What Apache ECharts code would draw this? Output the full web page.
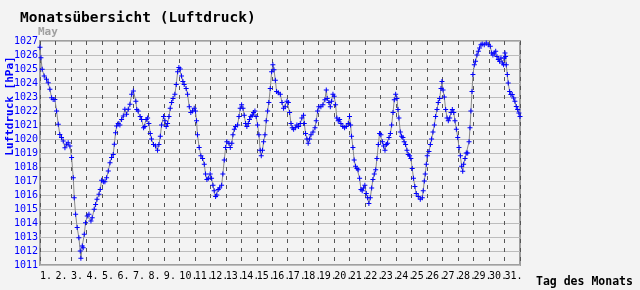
<!DOCTYPE html>
<html>
<head>
<meta charset="utf-8">
<script src="https://cdn.jsdelivr.net/npm/echarts@6/dist/echarts.min.js"></script>
<style>
html,body{margin:0;padding:0;background:#f3f3f3;}
#c{width:640px;height:290px;}
</style>
</head>
<body>
<div id="c"></div>
<script>
// Time of the month in days (0 = start of the 1st) and pressure in hPa
var dayPos = [
0.00,0.06,0.14,0.27,0.42,0.53,0.64,0.75,0.85,0.96,1.07,1.18,1.28,1.39,1.50,1.61,1.72,1.82,1.93,2.04,
2.15,2.21,2.30,2.40,2.51,2.60,2.64,2.73,2.79,2.86,2.94,3.05,3.16,3.29,3.37,3.50,3.59,3.68,3.81,3.89,
3.98,4.09,4.19,4.30,4.41,4.52,4.62,4.73,4.80,4.88,4.95,5.05,5.16,5.27,5.38,5.48,5.59,5.70,5.81,5.92,
6.03,6.19,6.25,6.34,6.47,6.56,6.69,6.77,6.86,6.95,7.03,7.12,7.20,7.33,7.46,7.59,7.68,7.77,7.85,7.98,
8.07,8.15,8.24,8.33,8.41,8.50,8.59,8.71,8.80,8.89,8.97,9.06,9.14,9.23,9.31,9.44,9.53,9.64,9.74,9.85,
9.96,10.04,10.11,10.17,10.28,10.39,10.50,10.61,10.69,10.78,10.87,10.99,11.08,11.17,11.25,11.34,11.42,11.51,11.60,11.73,
11.81,11.90,11.99,12.07,12.20,12.29,12.39,12.46,12.55,12.63,12.76,12.85,12.93,13.02,13.11,13.19,13.28,13.36,13.45,13.53,
13.62,13.71,13.79,13.88,13.96,14.05,14.14,14.22,14.29,14.37,14.44,14.53,14.61,14.70,14.78,14.87,14.96,15.04,15.11,15.20,
15.28,15.39,15.52,15.63,15.73,15.84,15.95,16.04,16.12,16.21,16.29,16.38,16.49,16.59,16.70,16.81,16.91,17.02,17.07,17.15,
17.24,17.32,17.41,17.50,17.63,17.76,17.84,17.93,18.01,18.14,18.27,18.40,18.49,18.55,18.66,18.75,18.83,18.92,19.00,19.09,
19.17,19.26,19.35,19.43,19.56,19.67,19.78,19.91,19.99,20.06,20.12,20.21,20.29,20.38,20.47,20.55,20.64,20.73,20.81,20.90,
20.98,21.07,21.16,21.24,21.33,21.42,21.50,21.59,21.68,21.76,21.85,21.93,22.02,22.11,22.19,22.28,22.37,22.45,22.54,22.63,
22.71,22.80,22.88,22.97,23.05,23.12,23.18,23.27,23.35,23.44,23.52,23.61,23.70,23.78,23.87,23.95,24.04,24.12,24.21,24.30,
24.43,24.56,24.69,24.75,24.82,24.88,24.95,25.01,25.12,25.21,25.29,25.38,25.47,25.55,25.64,25.72,25.81,25.90,25.96,26.03,
26.11,26.20,26.29,26.37,26.46,26.55,26.63,26.72,26.80,26.89,26.98,27.06,27.15,27.23,27.30,27.36,27.45,27.53,27.62,27.71,
27.77,27.83,27.90,27.96,28.05,28.13,28.22,28.31,28.39,28.48,28.56,28.69,28.82,28.95,29.08,29.17,29.25,29.34,29.43,29.51,
29.60,29.68,29.77,29.86,29.94,29.99,30.03,30.07,30.11,30.18,30.24,30.33,30.41,30.50,30.59,30.67,30.76,30.85,30.93,31.00
];
var pressure = [
1026.55,1025.81,1024.98,1024.50,1024.26,1024.02,1023.55,1022.95,1022.83,1022.83,1022.00,1021.05,1020.33,1020.10,1019.86,1019.38,1019.62,1019.74,1019.50,1018.67,
1017.24,1015.81,1014.62,1013.67,1012.95,1012.00,1011.48,1012.36,1012.24,1013.19,1014.02,1014.50,1014.62,1014.14,1014.38,1014.98,1015.33,1015.69,1016.05,1016.40,
1017.05,1016.95,1016.95,1017.24,1017.71,1018.31,1018.67,1018.90,1019.62,1020.45,1020.93,1021.10,1021.00,1021.40,1021.64,1022.12,1021.76,1022.12,1022.48,1023.19,
1023.43,1022.70,1022.10,1022.00,1021.60,1021.40,1020.80,1020.90,1021.40,1021.50,1021.10,1020.40,1020.00,1019.60,1019.50,1019.20,1019.60,1020.20,1021.00,1021.60,
1021.30,1020.90,1021.10,1021.60,1022.20,1022.60,1022.90,1023.20,1023.90,1024.80,1025.10,1025.00,1024.50,1024.10,1023.90,1023.60,1023.20,1022.30,1021.90,1022.00,
1022.20,1022.00,1021.30,1020.30,1019.40,1018.80,1018.60,1018.20,1017.50,1017.10,1017.20,1017.50,1017.20,1016.70,1016.30,1015.90,1016.00,1016.40,1016.50,1016.70,
1017.50,1018.50,1019.40,1019.80,1019.70,1019.40,1019.70,1020.30,1020.70,1020.90,1021.00,1021.60,1022.20,1022.45,1022.20,1021.70,1021.10,1020.90,1021.10,1021.40,
1021.60,1021.70,1021.90,1022.00,1021.60,1021.00,1020.30,1019.20,1018.80,1019.20,1019.80,1020.30,1021.30,1022.00,1022.60,1023.60,1024.80,1025.30,1024.95,1024.20,
1023.40,1023.30,1023.20,1022.60,1022.20,1022.30,1022.70,1022.60,1021.90,1021.10,1020.80,1020.70,1020.80,1021.00,1020.90,1021.10,1021.50,1021.70,1021.10,1020.40,
1020.00,1019.70,1020.00,1020.30,1020.50,1020.80,1021.30,1022.00,1022.30,1022.30,1022.45,1022.80,1023.50,1022.90,1022.60,1022.30,1022.70,1023.20,1023.05,1022.45,
1021.50,1021.30,1021.40,1021.10,1020.90,1020.80,1020.90,1021.10,1021.60,1021.00,1020.20,1019.40,1018.50,1018.05,1017.90,1017.80,1017.20,1016.40,1016.30,1016.50,
1016.70,1016.10,1015.80,1015.40,1015.80,1016.50,1017.10,1017.50,1017.80,1018.60,1019.60,1020.40,1020.30,1019.80,1019.50,1019.20,1019.60,1019.70,1020.10,1020.40,
1021.00,1021.90,1022.80,1023.20,1022.90,1022.10,1021.50,1020.50,1020.20,1020.10,1019.80,1019.60,1019.20,1018.90,1018.80,1018.60,1017.90,1017.20,1016.60,1016.10,
1015.90,1015.70,1015.80,1016.30,1017.00,1017.50,1018.20,1018.80,1019.10,1019.60,1020.00,1020.50,1021.00,1021.60,1022.10,1022.60,1022.90,1023.60,1024.10,1023.50,
1023.00,1022.10,1021.50,1021.30,1021.50,1021.90,1022.10,1021.90,1021.30,1020.70,1020.10,1019.40,1018.80,1018.05,1017.70,1018.20,1018.60,1019.00,1019.00,1019.80,
1020.80,1022.00,1023.40,1024.60,1025.30,1025.55,1026.00,1026.26,1026.50,1026.74,1026.79,1026.74,1026.86,1026.74,1026.62,1026.14,1026.00,1026.14,1026.26,1025.90,
1025.67,1025.55,1025.79,1025.43,1025.31,1025.79,1026.14,1025.90,1025.31,1024.60,1024.00,1023.40,1023.17,1023.17,1022.93,1022.69,1022.33,1022.10,1021.86,1021.60
];
var dayLabels = ['1.','2.','3.','4.','5.','6.','7.','8.','9.','10.','11.','12.','13.','14.','15.','16.',
'17.','18.','19.','20.','21.','22.','23.','24.','25.','26.','27.','28.','29.','30.','31.'];
var yMin = 1011, yMax = 1027;

var seriesData = dayPos.map(function (d, i) { return [d, pressure[i]]; });
var mono = '"DejaVu Sans Mono", monospace';

var chart = echarts.init(document.getElementById('c'), null, {renderer: 'canvas'});
chart.setOption({
  animation: false,
  backgroundColor: '#f3f3f3',
  grid: {left: 40, right: 120, top: 41, bottom: 25, show: true, backgroundColor: '#f3f3f3', borderColor: '#a0a0a0', borderWidth: 2},
  xAxis: {
    type: 'value', min: 0, max: dayLabels.length, interval: 1,
    axisLine: {show: false}, axisTick: {show: false},
    splitLine: {show: true, lineStyle: {color: '#555', type: [4, 5], width: 1}},
    axisLabel: {
      show: true, margin: 6, align: 'left', showMaxLabel: false,
      color: '#000', fontFamily: mono, fontSize: 10,
      formatter: function (v) { return dayLabels[Math.round(v)] || ''; }
    }
  },
  yAxis: {
    type: 'value', min: yMin, max: yMax, interval: 1,
    axisLine: {show: false}, axisTick: {show: false},
    splitLine: {show: true, lineStyle: {color: '#bdbdbd', width: 1}},
    axisLabel: {margin: 2, color: '#0000ff', fontFamily: mono, fontSize: 10,
      formatter: function (v) { return String(Math.round(v)); }}
  },
  graphic: [
    {type: 'text', x: 20, y: 18, style: {text: 'Monatsübersicht (Luftdruck)', font: 'bold 14.5px ' + mono, fill: '#000', align: 'left', verticalAlign: 'middle'}},
    {type: 'text', x: 38, y: 32, style: {text: 'May', font: 'bold 11px ' + mono, fill: '#a0a0a0', align: 'left', verticalAlign: 'middle'}},
    {type: 'text', x: 536, y: 282, style: {text: 'Tag des Monats', font: 'bold 11.5px ' + mono, fill: '#000', align: 'left', verticalAlign: 'middle'}},
    {type: 'text', x: 10, y: 106, rotation: Math.PI / 2, style: {text: 'Luftdruck [hPa]', font: 'bold 11px ' + mono, fill: '#0000ff', align: 'center', verticalAlign: 'middle'}}
  ],
  series: [{
    type: 'line',
    data: seriesData,
    symbol: 'path://M2,0L3,0L3,5L2,5Z M0,2L5,2L5,3L0,3Z',
    symbolSize: 5,
    showSymbol: true,
    itemStyle: {color: '#0000ff'},
    lineStyle: {color: '#888888', width: 1},
    z: 3
  }]
});
</script>
</body>
</html>
